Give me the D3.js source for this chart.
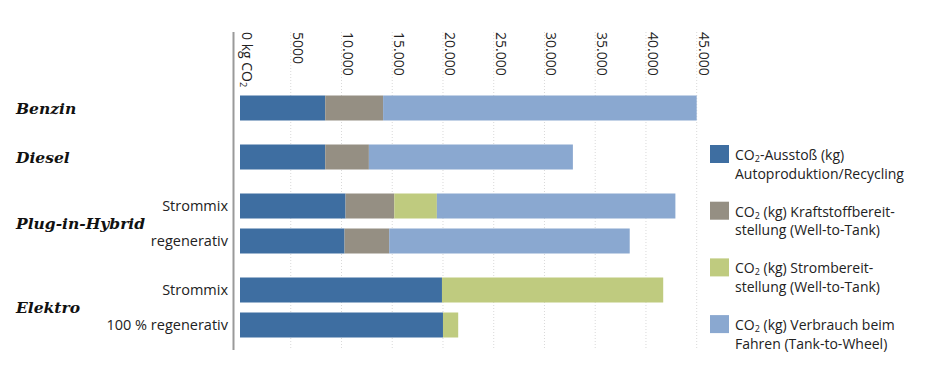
<!DOCTYPE html>
<html><head><meta charset="utf-8">
<script src="https://cdn.jsdelivr.net/npm/d3@7"></script>
<style>
body{margin:0;background:#fff;}
svg{display:block;}
</style></head>
<body><svg id="c" width="926" height="383"></svg>
<script>
// ---- data ----
const groups = ["Benzin", "Diesel", "Plug-in-Hybrid", "Elektro"];
const rowGroup = ["Benzin", "Diesel", "Plug-in-Hybrid", "Plug-in-Hybrid", "Elektro", "Elektro"];
const rowLabel = ["", "", "Strommix", "regenerativ", "Strommix", "100 % regenerativ"];
const produktion = [8400, 8400, 10400, 10300, 19900, 20000];
const kraftstoff = [5700, 4300, 4800, 4400, 0, 0];
const strom      = [0, 0, 4200, 0, 21800, 1500];
const fahren     = [30900, 20100, 23500, 23700, 0, 0];
const seriesKeys = ["produktion", "kraftstoff", "strom", "fahren"];
const seriesLabels = [
  ["CO|2|-Ausstoß (kg)", "Autoproduktion/Recycling"],
  ["CO|2| (kg) Kraftstoffbereit-", "stellung (Well-to-Tank)"],
  ["CO|2| (kg) Strombereit-", "stellung (Well-to-Tank)"],
  ["CO|2| (kg) Verbrauch beim", "Fahren (Tank-to-Wheel)"]
];
const colors = ["#3e6ea1", "#958f83", "#bfcb7f", "#8aa8d0"];
const tickValues = [0, 5000, 10000, 15000, 20000, 25000, 30000, 35000, 40000, 45000];
const tickLabels = ["0 kg CO|2", "5000", "10.000", "15.000", "20.000", "25.000", "30.000", "35.000", "40.000", "45.000"];

// ---- build ----
const rows = rowGroup.map((g, i) => ({
  group: g, label: rowLabel[i], slot: i + groups.indexOf(g) * 0.4,
  produktion: produktion[i], kraftstoff: kraftstoff[i], strom: strom[i], fahren: fahren[i]
}));
const stack = d3.stack().keys(seriesKeys)(rows);

const svg = d3.select("#c");
const x = d3.scaleLinear().domain([0, 45000]).range([240, 696.7]);
const y = d3.scaleLinear().domain([0, 6.2]).range([108, 325]);
const barH = 25;
const sans = "'Open Sans', 'Noto Sans', sans-serif";

function richText(sel, str, subSize) {
  const parts = str.split("|");
  parts.forEach((p, k) => {
    if (!p) return;
    const t = sel.append("tspan").text(p);
    if (k === 1) { t.attr("font-size", subSize).attr("baseline-shift", "-25%"); }
  });
}

// gridlines
svg.append("g").selectAll("line").data(tickValues.slice(1)).join("line")
  .attr("x1", d => x(d)).attr("x2", d => x(d))
  .attr("y1", 32).attr("y2", 350)
  .attr("stroke", "#d9d9d9").attr("stroke-width", 1).attr("stroke-dasharray", "1,2");

// tick labels rotated
const tl = svg.append("g").selectAll("text").data(tickValues).join("text")
  .attr("transform", d => `translate(${x(d) + 2},32) rotate(90)`)
  .attr("font-family", sans).attr("font-size", 14).attr("fill", "#222");
tl.each(function(d, i) { richText(d3.select(this), tickLabels[i], 9); });

// axis line
svg.append("line").attr("x1", 233.5).attr("x2", 233.5).attr("y1", 32).attr("y2", 350)
  .attr("stroke", "#9a9a9a").attr("stroke-width", 2);

// bars
svg.append("g").selectAll("g").data(stack).join("g")
  .attr("fill", (d, i) => colors[i])
  .selectAll("rect").data(d => d.filter(s => s[1] - s[0] > 0)).join("rect")
  .attr("x", d => x(d[0])).attr("width", d => x(d[1]) - x(d[0]))
  .attr("y", d => y(d.data.slot) - barH / 2).attr("height", barH);

// row sub labels
svg.append("g").selectAll("text").data(rows.filter(r => r.label)).join("text")
  .attr("x", 228).attr("y", r => y(r.slot) + 5)
  .attr("text-anchor", "end").attr("font-family", sans).attr("font-size", 14.5)
  .attr("fill", "#222").text(r => r.label);

// group labels
const groupY = groups.map(g => d3.mean(rows.filter(r => r.group === g), r => y(r.slot)));
svg.append("g").selectAll("text").data(groups).join("text")
  .attr("x", 16).attr("y", (g, i) => groupY[i] + (rows.filter(r => r.group === g).length > 1 ? 5 : 6))
  .attr("font-family", "'DejaVu Serif', serif").attr("font-weight", "bold").attr("font-style", "italic")
  .attr("font-size", 15.5).attr("fill", "#111").text(g => g);

// legend
const lg = svg.append("g").selectAll("g").data(seriesLabels).join("g")
  .attr("transform", (d, i) => `translate(710,${145 + i * 56.7})`);
lg.append("rect").attr("width", 19).attr("height", 18).attr("fill", (d, i) => colors[i]);
lg.each(function(d) {
  const g = d3.select(this);
  d.forEach((line, k) => {
    const t = g.append("text").attr("x", 25).attr("y", 15 + k * 18.5)
      .attr("font-family", sans).attr("font-size", 14).attr("fill", "#222");
    richText(t, line, 9);
  });
});
</script></body></html>
